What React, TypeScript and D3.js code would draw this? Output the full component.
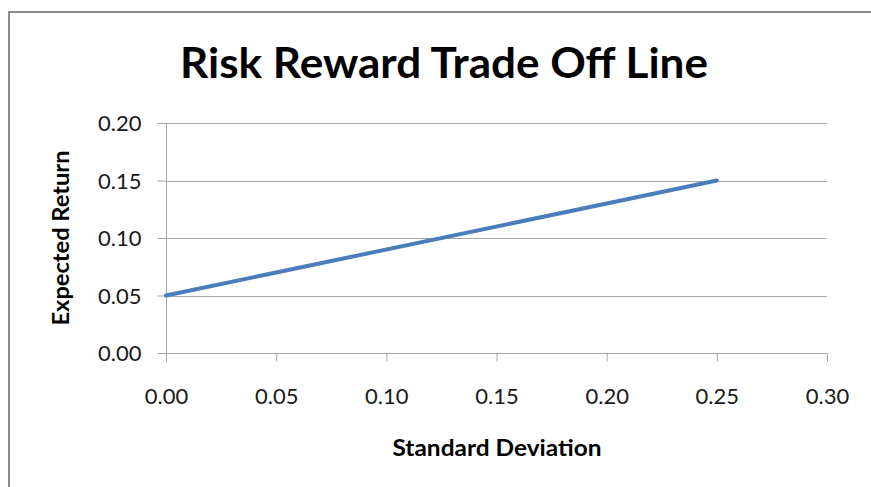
import * as d3 from "d3";
import * as React from "react";

const stdDev = [0.0, 0.25];
const expReturn = [0.05, 0.15];
const xTicks = [0, 0.05, 0.1, 0.15, 0.2, 0.25, 0.3];
const yTicks = [0, 0.05, 0.1, 0.15, 0.2];

const width = 871;
const height = 487;
const margin = { top: 123, right: 44, bottom: 134, left: 166 };
const font = "Lato, 'Open Sans', sans-serif";

export default function App() {
    const ref = React.useRef<SVGSVGElement>(null);

    React.useEffect(() => {
        const svg = d3.select(ref.current);
        svg.selectAll("*").remove();

        const x = d3.scaleLinear().domain([0, 0.3]).range([margin.left, width - margin.right]);
        const y = d3.scaleLinear().domain([0, 0.2]).range([height - margin.bottom, margin.top]);

        // chart frame, only left and top edges are inside the window
        svg.append("path")
            .attr("d", `M9,${height}V12H${width}`)
            .attr("fill", "none").attr("stroke", "#8c8c8c").attr("stroke-width", 2);

        svg.append("text")
            .attr("x", 444).attr("y", 78)
            .attr("text-anchor", "middle")
            .attr("font-family", font).attr("font-weight", "bold").attr("font-size", 42)
            .attr("textLength", 528).attr("lengthAdjust", "spacingAndGlyphs")
            .text("Risk Reward Trade Off Line");

        // grid
        svg.append("g").selectAll("line")
            .data(yTicks.filter(t => t > 0))
            .join("line")
            .attr("x1", x(0)).attr("x2", x(0.3))
            .attr("y1", d => Math.round(y(d)) + 0.5).attr("y2", d => Math.round(y(d)) + 0.5)
            .attr("stroke", "#a6a6a6");

        svg.append("g")
            .attr("transform", `translate(0,${Math.round(y(0)) + 0.5})`)
            .call(d3.axisBottom(x).tickValues(xTicks).tickSize(8).tickFormat(d3.format(".2f")))
            .call(g => g.select(".domain").attr("stroke", "#a6a6a6").attr("d", `M${x(0)},0H${x(0.3)}`))
            .call(g => g.selectAll(".tick line").attr("stroke", "#a6a6a6"))
            .call(g => g.selectAll(".tick text").attr("y", 50).attr("dy", null)
                .attr("font-family", font).attr("font-size", 22).attr("fill", "#1a1a1a"));

        svg.append("g")
            .attr("transform", `translate(${Math.round(x(0)) + 0.5},0)`)
            .call(d3.axisLeft(y).tickValues(yTicks).tickSize(9).tickPadding(16).tickFormat(d3.format(".2f")))
            .call(g => g.select(".domain").attr("stroke", "#a6a6a6").attr("d", `M0,${y(0) + 8}V${y(0.2)}`))
            .call(g => g.selectAll(".tick line").attr("stroke", "#a6a6a6"))
            .call(g => g.selectAll(".tick text").attr("dy", "0.35em")
                .attr("font-family", font).attr("font-size", 22).attr("fill", "#1a1a1a"));

        const line = d3.line<number>().x((d, i) => x(stdDev[i])).y(d => y(d));
        svg.append("path")
            .datum(expReturn)
            .attr("d", line)
            .attr("fill", "none")
            .attr("stroke", "#4a7ebb")
            .attr("stroke-width", 4)
            .attr("stroke-linecap", "round");

        svg.append("text")
            .attr("x", 497).attr("y", 456)
            .attr("text-anchor", "middle")
            .attr("font-family", font).attr("font-weight", "bold").attr("font-size", 22)
            .attr("textLength", 209).attr("lengthAdjust", "spacingAndGlyphs")
            .text("Standard Deviation");

        svg.append("text")
            .attr("transform", `translate(69,238) rotate(-90)`)
            .attr("text-anchor", "middle")
            .attr("font-family", font).attr("font-weight", "bold").attr("font-size", 22)
            .attr("textLength", 175).attr("lengthAdjust", "spacingAndGlyphs")
            .text("Expected Return");
    }, []);

    return <svg ref={ref} width={width} height={height} style={{ position: "absolute", left: 0, top: 0 }} />;
}
